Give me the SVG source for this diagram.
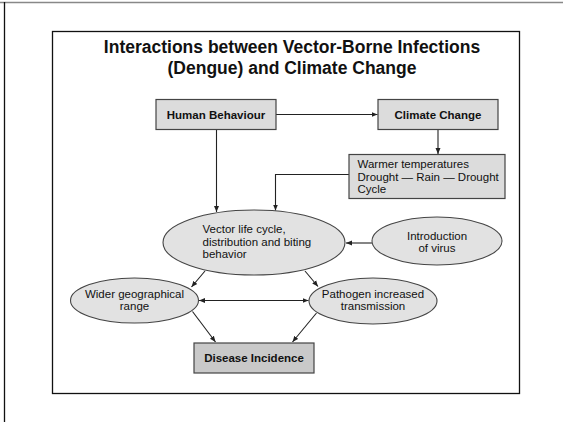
<svg xmlns="http://www.w3.org/2000/svg" width="563" height="422" viewBox="0 0 563 422">
  <style>
    .t { font-family: "Liberation Sans", Arial, Helvetica, sans-serif; font-size: 11.5px; fill: #111; }
    .b { font-weight: bold; }
    .title { font-family: "Liberation Sans", Arial, Helvetica, sans-serif; font-size: 17.5px; font-weight: bold; fill: #111; text-anchor: middle; }
    .box { fill: #dcdcdc; stroke: #444; stroke-width: 1.2; }
    .dark { fill: #c9c9c9; }
    .ell { fill: #e2e2e2; stroke: #444; stroke-width: 1.1; }
    .c { fill: none; stroke: #222; stroke-width: 1.1; }
    .mid { text-anchor: middle; }
  </style>
  <defs>
    <marker id="arr" markerUnits="userSpaceOnUse" markerWidth="7" markerHeight="6" refX="6" refY="3" orient="auto-start-reverse">
      <path d="M0,0.5 L6,3 L0,5.5 z" fill="#222"/>
    </marker>
  </defs>
  <rect width="563" height="422" fill="#fff"/>
  <line x1="0" y1="2.5" x2="563" y2="2.5" stroke="#888" stroke-width="1.5"/>
  <line x1="4.5" y1="2" x2="4.5" y2="422" stroke="#111" stroke-width="1.3"/>
  <rect x="52.5" y="31.5" width="467" height="362" fill="none" stroke="#111" stroke-width="1.3"/>
  <g id="title">
    <text class="title" x="292" y="52.5">Interactions between Vector-Borne Infections</text>
    <text class="title" x="292" y="73.5">(Dengue) and Climate Change</text>
  </g>
  <g id="connectors">
    <line class="c" x1="276" y1="114.5" x2="377.5" y2="114.5" marker-end="url(#arr)"/>
    <line class="c" x1="216.5" y1="129.5" x2="216.5" y2="212" marker-end="url(#arr)"/>
    <line class="c" x1="438" y1="129.5" x2="438" y2="154" marker-end="url(#arr)"/>
    <path class="c" d="M349,174.5 H275.5 V210.5" marker-end="url(#arr)"/>
    <line class="c" x1="372" y1="243" x2="346" y2="243" marker-end="url(#arr)"/>
    <line class="c" x1="205" y1="271" x2="191.5" y2="287" marker-end="url(#arr)"/>
    <line class="c" x1="305" y1="271" x2="318" y2="286.5" marker-end="url(#arr)"/>
    <line class="c" x1="199" y1="300.5" x2="308.5" y2="300.5" marker-start="url(#arr)" marker-end="url(#arr)"/>
    <line class="c" x1="192.5" y1="311.5" x2="215.5" y2="342" marker-end="url(#arr)"/>
    <line class="c" x1="316.5" y1="313" x2="292.5" y2="342" marker-end="url(#arr)"/>
  </g>
  <g id="human">
    <rect class="box" x="156" y="99.5" width="120" height="30"/>
    <text class="t b mid" x="216" y="118.5">Human Behaviour</text>
  </g>
  <g id="climate">
    <rect class="box" x="378" y="99.5" width="120" height="30"/>
    <text class="t b mid" x="438" y="118.5">Climate Change</text>
  </g>
  <g id="warmer">
    <rect class="box" x="349" y="154.5" width="156" height="44"/>
    <text class="t" x="357.5" y="168">Warmer temperatures</text>
    <text class="t" x="357.5" y="180.5">Drought — Rain — Drought</text>
    <text class="t" x="357.5" y="192.5">Cycle</text>
  </g>
  <g id="vector">
    <ellipse class="ell" cx="254" cy="242.5" rx="91" ry="32.5"/>
    <text class="t" x="202.5" y="233">Vector life cycle,</text>
    <text class="t" x="202.5" y="245.5">distribution and biting</text>
    <text class="t" x="202.5" y="258">behavior</text>
  </g>
  <g id="intro">
    <ellipse class="ell" cx="437" cy="241" rx="65" ry="24"/>
    <text class="t mid" x="437" y="239.5">Introduction</text>
    <text class="t mid" x="437" y="252">of virus</text>
  </g>
  <g id="wider">
    <ellipse class="ell" cx="134.5" cy="300.5" rx="64" ry="22.5"/>
    <text class="t mid" x="134.5" y="298">Wider geographical</text>
    <text class="t mid" x="134.5" y="310">range</text>
  </g>
  <g id="pathogen">
    <ellipse class="ell" cx="373" cy="301" rx="64" ry="23"/>
    <text class="t mid" x="373" y="298">Pathogen increased</text>
    <text class="t mid" x="373" y="310">transmission</text>
  </g>
  <g id="disease">
    <rect class="box dark" x="194" y="343" width="120" height="30"/>
    <text class="t b mid" x="254" y="362">Disease Incidence</text>
  </g>
</svg>
